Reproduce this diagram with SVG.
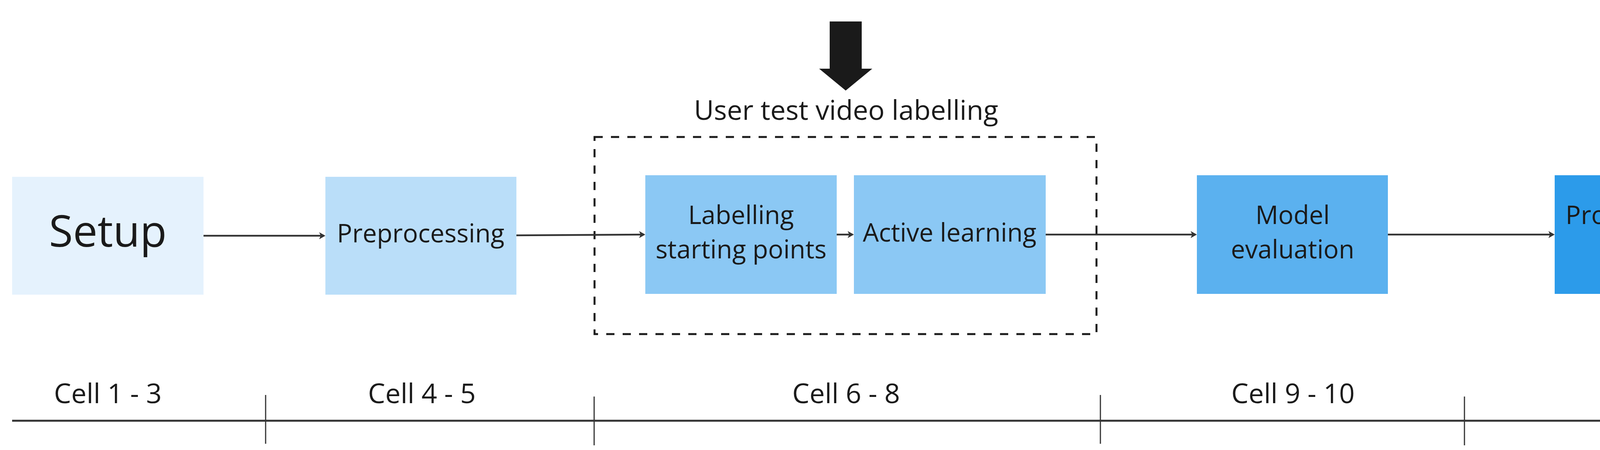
<svg xmlns="http://www.w3.org/2000/svg" width="5417" height="1153" viewBox="0 0 5417 1153">
  <style>
    .lbl { font-family: "Open Sans", "Noto Sans", "Liberation Sans", sans-serif; fill: #1a1a1a; text-anchor: middle; }
    .box { font-size: 65px; }
    .cell { font-size: 70px; }
    .conn { stroke: #333333; stroke-width: 4.5; fill: none; marker-end: url(#ah); }
    .tick { stroke: #333333; stroke-width: 3; }
  </style>
  <defs>
    <marker id="ah" markerUnits="userSpaceOnUse" markerWidth="20" markerHeight="20" viewBox="0 0 20 20" refX="14" refY="10" orient="auto">
      <path d="M2,1 L18,10 L2,19 L6,10 Z" fill="#333333"/>
    </marker>
    <marker id="ah2" markerUnits="userSpaceOnUse" markerWidth="22" markerHeight="22" viewBox="0 0 22 22" refX="16" refY="11" orient="auto">
      <path d="M2,2 L20,11 L2,20 L6,11 Z" fill="#333333"/>
    </marker>
  </defs>
  <rect width="5417" height="1153" fill="#ffffff"/>

  <g id="big-arrow">
    <path d="M2124,55 L2206,55 L2206,176 L2233,176 L2165,232 L2097,176 L2124,176 Z" fill="#1a1a1a"/>
  </g>

  <g id="group-user-test">
    <rect x="1522" y="351" width="1285" height="505" fill="none" stroke="#1a1a1a" stroke-width="5" stroke-dasharray="21 21"/>
    <text class="lbl" x="2166" y="307" font-size="70">User test video labelling</text>
  </g>

  <g id="node-setup">
    <rect x="31" y="453" width="490" height="302" fill="#E5F2FD"/>
    <text class="lbl" x="276" y="632" font-size="112">Setup</text>
  </g>

  <g id="node-preprocessing">
    <rect x="833" y="453" width="489" height="302" fill="#BADEF9"/>
    <text class="lbl box" x="1077" y="621">Preprocessing</text>
  </g>

  <g id="node-labelling">
    <rect x="1652" y="449" width="490" height="304" fill="#8BC8F4"/>
    <text class="lbl box" x="1897" y="574">Labelling</text>
    <text class="lbl box" x="1897" y="662">starting points</text>
  </g>

  <g id="node-active">
    <rect x="2186" y="449" width="491" height="304" fill="#8BC8F4"/>
    <text class="lbl box" x="2431" y="619">Active learning</text>
  </g>

  <g id="node-model">
    <rect x="3064" y="449" width="489" height="304" fill="#5BB1EF"/>
    <text class="lbl box" x="3309" y="574">Model</text>
    <text class="lbl box" x="3309" y="662">evaluation</text>
  </g>

  <g id="node-product">
    <rect x="3980" y="449" width="490" height="304" fill="#2C9BEA"/>
    <text class="lbl box" x="4225" y="574">Product usage</text>
    <text class="lbl box" x="4225" y="662">timeline</text>
  </g>

  <g id="node-running">
    <rect x="4896" y="449" width="490" height="304" fill="#1283D1"/>
    <text class="lbl box" x="5141" y="574">Running with</text>
    <text class="lbl box" x="5141" y="662">new data</text>
  </g>

  <g id="connectors">
    <line class="conn" x1="521" y1="604" x2="829" y2="604"/>
    <line class="conn" x1="1322" y1="603" x2="1648" y2="601"/>
    <line class="conn" x1="2142" y1="601" x2="2182" y2="601"/>
    <line class="conn" x1="2677" y1="601" x2="3060" y2="601"/>
    <line class="conn" x1="3553" y1="601" x2="3976" y2="601"/>
    <line class="conn" x1="4470" y1="601" x2="4892" y2="601"/>
  </g>

  <g id="timeline">
    <line x1="31" y1="1078" x2="5380" y2="1078" stroke="#333333" stroke-width="5" marker-end="url(#ah2)"/>
    <line class="tick" x1="680" y1="1012" x2="680" y2="1137"/>
    <line class="tick" x1="1521" y1="1016" x2="1521" y2="1141"/>
    <line class="tick" x1="2817" y1="1012" x2="2817" y2="1137"/>
    <line class="tick" x1="3749" y1="1016" x2="3749" y2="1141"/>
    <line class="tick" x1="4678" y1="1016" x2="4678" y2="1141"/>
    <text class="lbl cell" x="276" y="1033">Cell 1 - 3</text>
    <text class="lbl cell" x="1080" y="1033">Cell 4 - 5</text>
    <text class="lbl cell" x="2166" y="1033">Cell 6 - 8</text>
    <text class="lbl cell" x="3310" y="1033">Cell 9 - 10</text>
    <text class="lbl cell" x="4223" y="1033">Cell 11</text>
    <text class="lbl cell" x="5139" y="1033">Cell 12</text>
  </g>
</svg>
